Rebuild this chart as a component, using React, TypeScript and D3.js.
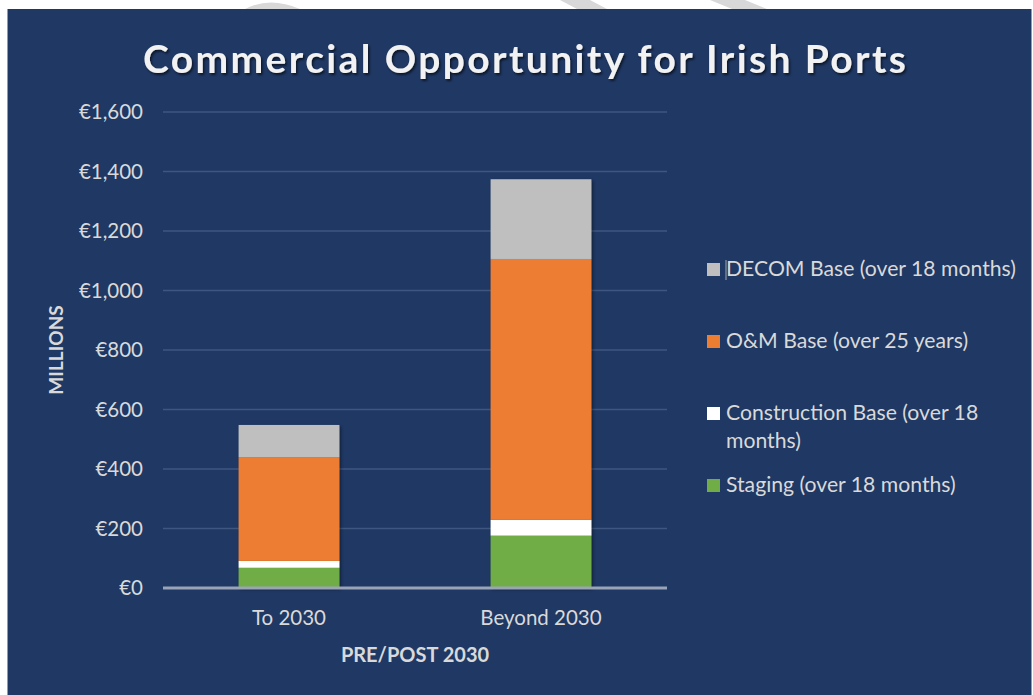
import React from "react";
import * as d3 from "d3";

const categories = ["To 2030", "Beyond 2030"];
const staging = [68, 176];
const construction = [23, 53];
const oAndM = [349, 877];
const decom = [108, 268];
const yTicks = [0, 200, 400, 600, 800, 1000, 1200, 1400, 1600];

const seriesKeys = ["staging", "construction", "oandm", "decom"];
const seriesColors: Record<string, string> = {
  staging: "#70AD47",
  construction: "#FFFFFF",
  oandm: "#ED7D31",
  decom: "#BFBFBF",
};
const legendItems = [
  { key: "decom", lines: ["DECOM Base (over 18 months)"] },
  { key: "oandm", lines: ["O&M Base (over 25 years)"] },
  { key: "construction", lines: ["Construction Base (over 18", "months)"] },
  { key: "staging", lines: ["Staging (over 18 months)"] },
];

const W = 1033;
const H = 695;
const FONT = "Lato, 'Open Sans', sans-serif";

export default function App() {
  const rows = categories.map((c, i) => ({
    cat: c,
    staging: staging[i],
    construction: construction[i],
    oandm: oAndM[i],
    decom: decom[i],
  }));
  const stacked = d3.stack<any>().keys(seriesKeys)(rows);
  const x = d3
    .scaleBand()
    .domain(categories)
    .range([163, 667])
    .paddingInner(0.6)
    .paddingOuter(0.3);
  const y = d3.scaleLinear().domain([0, 1600]).range([588, 112]);
  const fmt = (v: number) => "€" + d3.format(",")(v);
  const legendY = [276, 348, 420, 492];

  return (
    <div style={{ position: "fixed", left: 0, top: 0, width: W, height: H, background: "#fff" }}>
      <svg width={W} height={H} style={{ display: "block" }}>
        <defs>
          <filter id="barShadow" x="-10%" y="-10%" width="130%" height="130%">
            <feDropShadow dx="1.5" dy="1.5" stdDeviation="1.5" floodColor="#000" floodOpacity="0.45" />
          </filter>
          <filter id="textShadow" x="-5%" y="-20%" width="110%" height="150%">
            <feDropShadow dx="1.5" dy="2" stdDeviation="1.2" floodColor="#000" floodOpacity="0.6" />
          </filter>
        </defs>
        {/* faint watermark traces in top margin */}
        <g fill="#D8D8D8">
          <path d="M245,9 Q270,-4 300,9 Z" />
          <polygon points="560,0 590,0 607,9 577,9" />
          <polygon points="710,0 745,0 767,9 732,9" />
        </g>
        <rect x={7.5} y={9} width={1024} height={690} fill="#1F3864" />
        {/* title */}
        <text
          x={524.5}
          y={73}
          textAnchor="middle"
          fill="#F2F2F2"
          fontFamily={FONT}
          fontWeight={700}
          fontSize={39}
          textLength={763}
          lengthAdjust="spacing"
          filter="url(#textShadow)"
        >
          Commercial Opportunity for Irish Ports
        </text>
        {/* gridlines */}
        {yTicks.filter((t) => t > 0).map((t) => (
          <line key={t} x1={163} x2={667} y1={y(t)} y2={y(t)} stroke="#3F5680" strokeWidth={1.5} />
        ))}
        {/* y tick labels */}
        {yTicks.map((t) => (
          <text
            key={"l" + t}
            x={143}
            y={y(t)}
            dy="0.35em"
            textAnchor="end"
            fill="#D9D9D9"
            fontFamily={FONT}
            fontSize={20.5}
          >
            {fmt(t)}
          </text>
        ))}
        {/* bars */}
        <g filter="url(#barShadow)">
          {stacked.map((s) =>
            s.map((d, i) => (
              <rect
                key={s.key + i}
                x={x(categories[i])}
                width={x.bandwidth()}
                y={y(d[1])}
                height={y(d[0]) - y(d[1])}
                fill={seriesColors[s.key]}
              />
            ))
          )}
        </g>
        {/* baseline */}
        <line x1={163} x2={667} y1={y(0)} y2={y(0)} stroke="#9AA4B6" strokeWidth={3} />
        {/* category labels */}
        {categories.map((c) => (
          <text
            key={c}
            x={(x(c) as number) + x.bandwidth() / 2}
            y={625}
            textAnchor="middle"
            fill="#D9D9D9"
            fontFamily={FONT}
            fontSize={20.5}
          >
            {c}
          </text>
        ))}
        {/* axis titles */}
        <text x={415} y={662} textAnchor="middle" fill="#D9D9D9" fontFamily={FONT} fontWeight={700} fontSize={20}>
          PRE/POST 2030
        </text>
        <text
          transform="translate(63,350) rotate(-90)"
          textAnchor="middle"
          fill="#D9D9D9"
          fontFamily={FONT}
          fontWeight={700}
          fontSize={19}
        >
          MILLIONS
        </text>
        {/* legend */}
        {legendItems.map((it, i) => (
          <g key={it.key}>
            <rect x={707} y={legendY[i] - 13} width={13} height={13} fill={seriesColors[it.key]} />
            {it.lines.map((ln, j) => (
              <text
                key={j}
                x={726}
                y={legendY[i] + j * 28}
                fill="#D9D9D9"
                fontFamily={FONT}
                fontSize={21.2}
              >
                {ln}
              </text>
            ))}
          </g>
        ))}
        <line x1={726} x2={726} y1={260} y2={280} stroke="#A6A6A6" strokeWidth={1} />
      </svg>
    </div>
  );
}
